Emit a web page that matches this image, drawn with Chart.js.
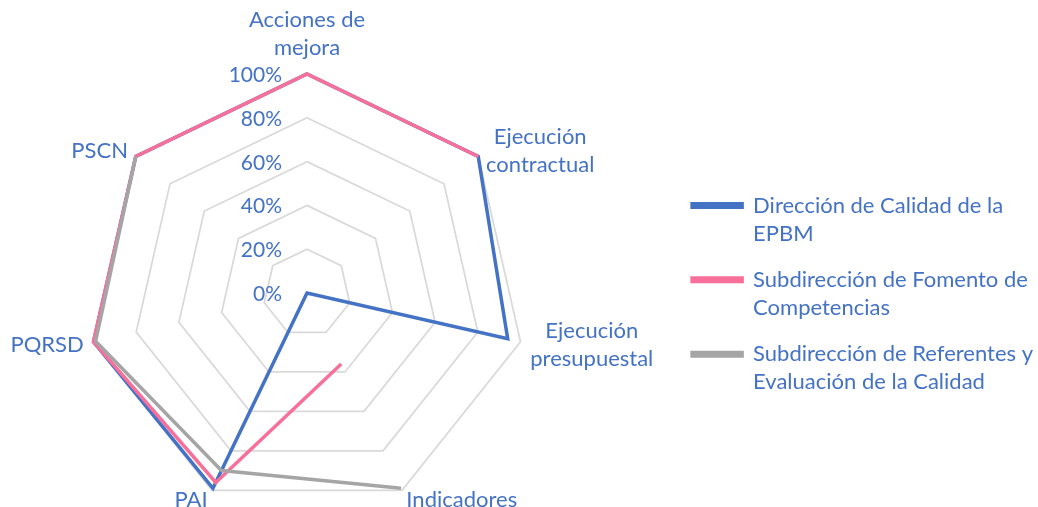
<!DOCTYPE html>
<html>
<head>
<meta charset="utf-8">
<script src="https://cdn.jsdelivr.net/npm/chart.js@4"></script>
<style>
  html, body { margin: 0; padding: 0; background: #fff; overflow: hidden; width: 1038px; height: 507px; }
  #wrap { position: absolute; left: -59px; top: 0; width: 1102px; height: 512px; }
</style>
</head>
<body>
<div id="wrap"><canvas id="c"></canvas></div>
<script>
const categories = [
  ['Acciones de', 'mejora'],
  ['Ejecución', 'contractual'],
  ['Ejecución', 'presupuestal'],
  'Indicadores',
  'PAI',
  'PQRSD',
  'PSCN'
];
const seriesNames = [
  ['Dirección de Calidad de la', 'EPBM'],
  ['Subdirección de Fomento de', 'Competencias'],
  ['Subdirección de Referentes y', 'Evaluación de la Calidad']
];
const direccionCalidad = [100, 100, 94, 0, 99, 100, 100];
const fomentoCompetencias = [100, 100, null, 36, 96, 100, 100];
const referentesEvaluacion = [null, null, null, 99, 90, 99, 100];
const tickValues = [0, 20, 40, 60, 80, 100];

const BLUE = '#4472C4';
const PINK = '#F8709A';
const GRAY = '#A5A5A5';
const TEXT = '#4472C4';
const FONT = 'Lato, "Open Sans", sans-serif';

// Draws tick labels and point labels (Excel-like placement) from the radial scale
const labelPlugin = {
  id: 'radarLabels',
  afterDraw(chart) {
    const s = chart.scales.r;
    const ctx = chart.ctx;
    ctx.save();
    ctx.fillStyle = TEXT;

    // tick labels, right-aligned left of the first axis
    ctx.font = '21px ' + FONT;
    ctx.textAlign = 'right';
    ctx.textBaseline = 'alphabetic';
    tickValues.forEach(v => {
      const p = s.getPointPositionForValue(0, v);
      ctx.fillText(v + '%', p.x - 25, p.y + 8);
    });

    // point labels
    const size = 22, lineGap = 28, capH = 15.5, gap = 10;
    ctx.font = size + 'px ' + FONT;
    chart.data.labels.forEach((lab, i) => {
      const lines = Array.isArray(lab) ? lab : [lab];
      const ang = s.getIndexAngle(i);
      const sn = Math.sin(ang), cs = Math.cos(ang);
      const p = s.getPointPosition(i, s.drawingArea + gap);
      const widths = lines.map(t => ctx.measureText(t).width);
      const maxW = Math.max(...widths);
      const blockH = capH + (lines.length - 1) * lineGap;
      let cx, firstBase;
      if (Math.abs(sn) < 0.1) {
        cx = p.x;
        if (cs > 0) {
          const lastBase = p.y - 9;
          firstBase = lastBase - (lines.length - 1) * lineGap;
        } else {
          firstBase = p.y + capH;
        }
      } else {
        cx = sn > 0 ? p.x + maxW / 2 : p.x - maxW / 2;
        firstBase = p.y - blockH / 2 + capH;
      }
      ctx.textAlign = 'center';
      lines.forEach((t, k) => ctx.fillText(t, cx, firstBase + k * lineGap));
    });
    ctx.restore();
  }
};

new Chart(document.getElementById('c'), {
  type: 'radar',
  data: {
    labels: categories,
    datasets: [
      { label: seriesNames[0], data: direccionCalidad, borderColor: BLUE, backgroundColor: BLUE, order: 3, clip: false },
      { label: seriesNames[1], data: fomentoCompetencias, borderColor: PINK, backgroundColor: PINK, order: 2, clip: false },
      { label: seriesNames[2], data: referentesEvaluacion, borderColor: GRAY, backgroundColor: GRAY, order: 1, clip: false }
    ]
  },
  options: {
    responsive: true,
    maintainAspectRatio: false,
    animation: false,
    spanGaps: false,
    elements: {
      line: { borderWidth: 3.5, fill: false, tension: 0, borderJoinStyle: 'miter' },
      point: { radius: 0, hoverRadius: 0 }
    },
    layout: { padding: { left: 0, right: 0, top: 74, bottom: 0 } },
    scales: {
      r: {
        min: 0, max: 100,
        ticks: { display: false, stepSize: 20 },
        grid: { color: '#D9D9D9', lineWidth: 1.75 },
        angleLines: { display: false },
        pointLabels: { display: false }
      }
    },
    plugins: {
      tooltip: { enabled: false },
      legend: {
        position: 'right',
        align: 'center',
        title: { display: true, text: '', font: { size: 8, lineHeight: 1 }, padding: 0 },
        labels: {
          boxWidth: 50,
          boxHeight: 3.5,
          color: TEXT,
          font: { family: FONT, size: 22, lineHeight: 1.28 },
          padding: 18,
          sort: (a, b) => a.datasetIndex - b.datasetIndex
        }
      }
    }
  },
  plugins: [labelPlugin]
});
</script>
</body>
</html>
